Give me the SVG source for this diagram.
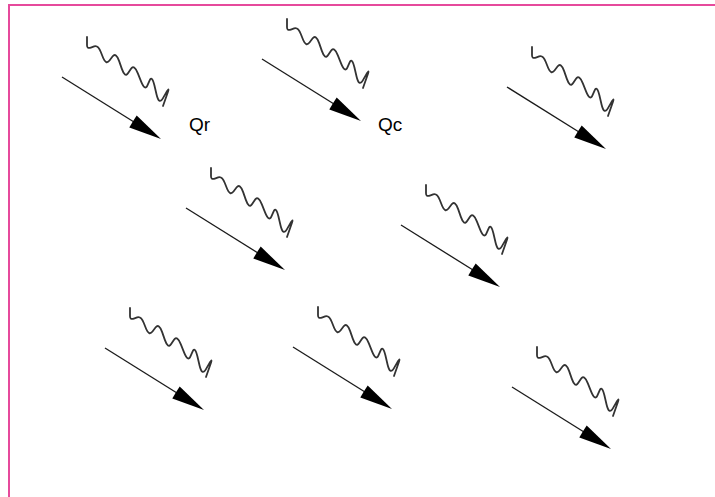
<svg xmlns="http://www.w3.org/2000/svg" xmlns:xlink="http://www.w3.org/1999/xlink" width="715" height="497" viewBox="0 0 715 497">
  <style>
    .frame { fill: none; stroke: #e64a9c; stroke-width: 2; }
    .ray { stroke: #1a1a1a; stroke-width: 1.3; fill: none; }
    .head { fill: #000; }
    .wave { fill: none; stroke: #333; stroke-width: 1.8; stroke-linecap: round; stroke-linejoin: round; }
    .label { font-family: "Liberation Sans", Arial, sans-serif; font-size: 19px; fill: #000; }
  </style>
  <defs>
    <!-- one radiation symbol: wavy line above a straight arrow, origin at the arrow tail -->
    <g id="ray">
      <path class="wave" d="M25,-40 L25,-31.85 Q25,-28 28.85,-29.4 L32.15,-30.6 Q36,-32 38.8,-25 L41.2,-19 Q44,-12 47.5,-16.55 L50.5,-20.45 Q54,-25 57.15,-15.9 L59.85,-8.1 Q63,1 66.15,-3.9 L68.85,-8.1 Q72,-13 75.85,-3.55 L79.15,4.55 Q83,14 85.45,8.4 L87.55,3.6 Q90,-2 92.45,8.5 L94.55,17.5 Q97,28 100.85,21.35 L104.15,15.65 Q108,9 105.55,16 L101,29"/>
      <line class="ray" x1="0" y1="0" x2="72" y2="45"/>
      <path class="head" d="M99,62 L74.7,38.6 Q70.5,45 67.3,50.4 Z"/>
    </g>
  </defs>

  <rect class="frame" x="9" y="5" width="720" height="510"/>

  <g id="connectors">
    <use xlink:href="#ray" x="62" y="77"/>
    <use xlink:href="#ray" x="262" y="59"/>
    <use xlink:href="#ray" x="507" y="87"/>
    <use xlink:href="#ray" x="186" y="208"/>
    <use xlink:href="#ray" x="401" y="225"/>
    <use xlink:href="#ray" x="105" y="348"/>
    <use xlink:href="#ray" x="293" y="347"/>
    <use xlink:href="#ray" x="512" y="387"/>
  </g>

  <g id="label-qr"><text class="label" x="189" y="131">Qr</text></g>
  <g id="label-qc"><text class="label" x="378" y="131">Qc</text></g>
</svg>
